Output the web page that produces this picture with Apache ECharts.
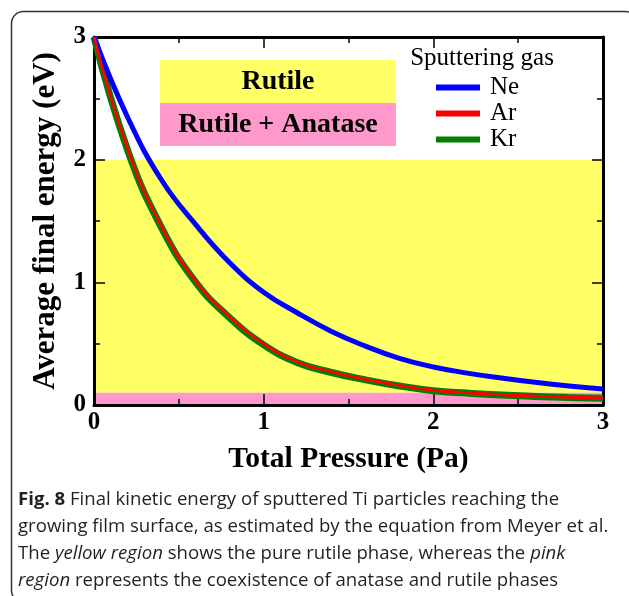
<!DOCTYPE html>
<html>
<head>
<meta charset="utf-8">
<script src="https://cdn.jsdelivr.net/npm/echarts@6/dist/echarts.min.js"></script>
<style>
  html, body { margin: 0; padding: 0; background: #fff; }
  #chart { width: 629px; height: 596px; }
</style>
</head>
<body>
<div id="chart"></div>
<script>
// Total pressure (Pa) at which the final energies are sampled
const pressure = [0, 0.2, 0.4, 0.6, 0.8, 1.0, 1.2, 1.4, 1.6, 1.8, 2.0, 2.2, 2.4, 2.6, 2.8, 3.0];
// Average final energy (eV) for each sputtering gas
const energyNe = [3.0, 2.34, 1.83, 1.47, 1.16, 0.92, 0.75, 0.60, 0.48, 0.38, 0.31, 0.26, 0.22, 0.185, 0.155, 0.13];
const energyAr = [3.0, 2.08, 1.45, 1.01, 0.72, 0.50, 0.35, 0.27, 0.21, 0.16, 0.12, 0.10, 0.084, 0.072, 0.063, 0.057];
const energyKr = [3.0, 2.07, 1.44, 1.00, 0.71, 0.49, 0.345, 0.265, 0.205, 0.155, 0.117, 0.097, 0.081, 0.07, 0.061, 0.055];
// Phase regions (energy ranges, eV)
const rutileBand = [0.1, 2.0];
const mixedBand = [0, 0.1];
const gasNames = ['Ne', 'Ar', 'Kr'];
const xTicks = [0, 1, 2, 3];
const yTicks = [0, 1, 2, 3];

const serif = '"Liberation Serif", "Times New Roman", serif';
const pairs = (ys) => pressure.map((p, i) => [p, ys[i]]);

const chart = echarts.init(document.getElementById('chart'), null, { renderer: 'canvas' });

// Boxed axis: every side gets an inward tick at each unit and a half-unit minor tick
function makeAxis(position, extra) {
  return Object.assign({
    type: 'value',
    position: position,
    min: 0, max: 3, interval: 1,
    z: 3,
    axisLine: { show: true, onZero: false, lineStyle: { color: '#000', width: 3 } },
    axisTick: { show: true, inside: true, length: 11, lineStyle: { color: '#000', width: 1.5 } },
    minorTick: { show: true, splitNumber: 2, length: 6, lineStyle: { color: '#000', width: 1.5 } },
    splitLine: { show: false },
    minorSplitLine: { show: false },
    axisLabel: { show: false }
  }, extra || {});
}

const lineSeries = (name, ys, color, width, z) => ({
  name, type: 'line', data: pairs(ys), showSymbol: false, symbol: 'none',
  smooth: 0.45, z,
  lineStyle: { color, width }, itemStyle: { color }
});

chart.setOption({
  animation: false,
  backgroundColor: '#fff',
  grid: { left: 94, right: 26, top: 37, bottom: 191 },
  xAxis: [
    makeAxis('bottom', {
      name: 'Total Pressure (Pa)', nameLocation: 'middle', nameGap: 39,
      nameTextStyle: { fontFamily: serif, fontWeight: 'bold', fontSize: 29.5, color: '#000' },
      axisLabel: {
        show: true, margin: 5, fontFamily: serif, fontWeight: 'bold', fontSize: 25, color: '#000',
        formatter: (v) => (xTicks.includes(v) ? String(v) : '')
      }
    }),
    makeAxis('top')
  ],
  yAxis: [
    makeAxis('left', {
      name: 'Average final energy (eV)', nameLocation: 'middle', nameGap: 33,
      nameTextStyle: { fontFamily: serif, fontWeight: 'bold', fontSize: 31, color: '#000' },
      axisLabel: {
        show: true, margin: 8, fontFamily: serif, fontWeight: 'bold', fontSize: 25, color: '#000',
        formatter: (v) => (yTicks.includes(v) ? String(v) : '')
      }
    }),
    makeAxis('right')
  ],
  legend: {
    data: gasNames,
    orient: 'vertical',
    left: 436, top: 75,
    padding: 0,
    itemWidth: 44, itemHeight: 6, itemGap: 1,
    icon: 'rect',
    textStyle: { fontFamily: serif, fontSize: 25, color: '#000', lineHeight: 25, padding: [0, 0, 0, 5] }
  },
  series: [
    {
      name: 'phases', type: 'line', data: [], z: 1, silent: true,
      markArea: {
        silent: true,
        z: 0,
        data: [
          [{ xAxis: 0, yAxis: rutileBand[0], itemStyle: { color: '#FFFF66' } }, { xAxis: 3, yAxis: rutileBand[1] }],
          [{ xAxis: 0, yAxis: mixedBand[0], itemStyle: { color: '#FF99CC' } }, { xAxis: 3, yAxis: mixedBand[1] }]
        ]
      }
    },
    lineSeries('Ne', energyNe, '#0000FF', 5, 5),
    lineSeries('Ar', energyAr, '#FF0000', 3, 6),
    lineSeries('Kr', energyKr, '#008000', 7, 4)
  ],
  graphic: [
    // outer frame around figure and caption
    {
      type: 'rect', left: 9, top: 9, z: 0,
      shape: { x: 0, y: 0, width: 626, height: 591, r: 12 },
      style: { fill: 'none', stroke: '#333', lineWidth: 1.5 }
    },
    // phase key boxes
    {
      type: 'rect', left: 160, top: 60, z: 10,
      shape: { width: 236, height: 43 }, style: { fill: '#FFFF66' }
    },
    {
      type: 'rect', left: 160, top: 103, z: 10,
      shape: { width: 236, height: 43 }, style: { fill: '#FF99CC' }
    },
    {
      type: 'text', x: 278, y: 82, z: 11,
      style: { text: 'Rutile', font: 'bold 28px ' + serif, fill: '#000', align: 'center', verticalAlign: 'middle' }
    },
    {
      type: 'text', x: 278, y: 125, z: 11,
      style: { text: 'Rutile + Anatase', font: 'bold 28px ' + serif, fill: '#000', align: 'center', verticalAlign: 'middle' }
    },
    {
      type: 'text', x: 482, y: 58, z: 11,
      style: { text: 'Sputtering gas', font: '25px ' + serif, fill: '#000', align: 'center', verticalAlign: 'middle' }
    },
    // caption
    {
      type: 'text', left: 18, top: 486, z: 11,
      style: {
        text: '{b|Fig. 8} Final kinetic energy of sputtered Ti particles reaching the\n' +
              'growing film surface, as estimated by the equation from Meyer et al.\n' +
              'The {i|yellow region} shows the pure rutile phase, whereas the {i|pink}\n' +
              '{i|region} represents the coexistence of anatase and rutile phases',
        fontFamily: '"Open Sans", sans-serif', fontSize: 18.6, lineHeight: 27, fill: '#231F20',
        rich: {
          b: { fontFamily: '"Open Sans", sans-serif', fontSize: 18.6, fontWeight: 'bold', lineHeight: 27, fill: '#231F20' },
          i: { fontFamily: '"Open Sans", sans-serif', fontSize: 18.6, fontStyle: 'italic', lineHeight: 27, fill: '#231F20' }
        }
      }
    }
  ]
});
</script>
</body>
</html>
